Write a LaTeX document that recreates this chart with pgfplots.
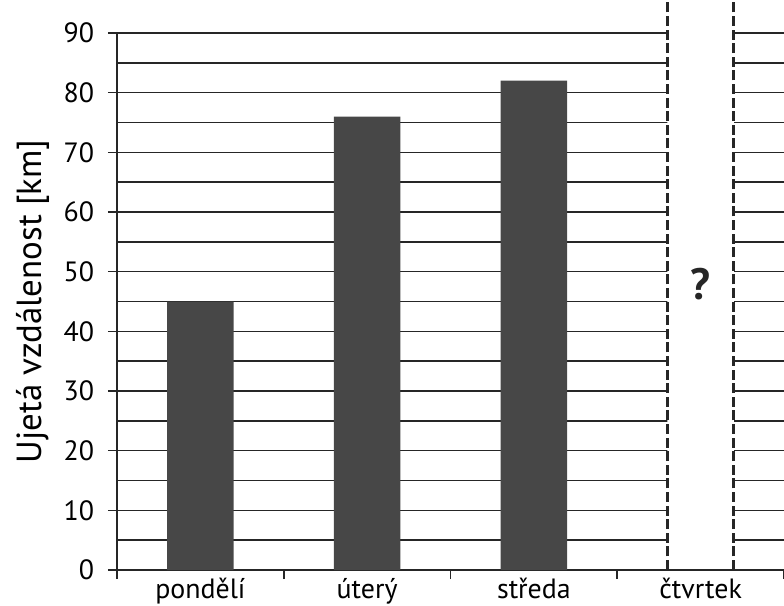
\documentclass[border=0pt]{standalone}
\usepackage{fontspec}
\setmainfont{PT Sans}
\usepackage{pgfplots}
\pgfplotsset{compat=1.18}
\begin{document}
\begin{tikzpicture}
\path[use as bounding box] (0,0) rectangle (392bp,303bp);
\begin{axis}[
  at={(58.5bp,18bp)}, anchor=south west,
  scale only axis, width=333.5bp, height=268.5bp,
  xmin=0.5, xmax=4.5, ymin=0, ymax=90,
  axis x line=bottom, axis y line=left,
  axis line style={-, line width=0.8pt, black!85},
  clip=false,
  font=\fontsize{14}{16}\selectfont,
  ytick={0,10,...,90}, minor ytick={5,15,...,85},
  ymajorgrids, yminorgrids,
  grid style={line width=0.75pt, black!85},
  minor grid style={line width=0.75pt, black!85},
  major tick length=4.5bp, minor tick length=0pt,
  tick align=outside,
  tick style={line width=0.8pt, black!85},
  xtick={0.5,1.5,...,4.5}, xticklabels={},
  extra x ticks={1,2,3,4},
  extra x tick labels={pondělí, úterý, středa, čtvrtek},
  extra x tick style={major tick length=0pt, xticklabel style={yshift=-0.5bp}},
  yticklabel style={xshift=-3.5bp},
  /pgf/number format/assume math mode=true,
  ylabel={Ujetá vzdálenost [km]},
  ylabel style={at={(axis description cs:-0.126,0.5)}, anchor=center, font=\fontsize{17.5}{20}\selectfont},
]
\addplot[ybar, bar width=0.4, bar shift=0, fill=black!72, draw=none] coordinates {(1,45) (2,76) (3,82)};
\addplot[fill=white, draw=none] coordinates {(3.8,0.4) (3.8,95.5) (4.2,95.5) (4.2,0.4) (3.8,0.4)};
\addplot[black!85, line width=1.5pt, dash pattern=on 5bp off 1.8bp] coordinates {(3.8,0) (3.8,95.5)};
\addplot[black!85, line width=1.5pt, dash pattern=on 5bp off 1.8bp] coordinates {(4.2,0) (4.2,95.5)};
\node[font=\bfseries\fontsize{22}{22}\selectfont, black!85] at (axis cs:4,48) {?};
\end{axis}
\end{tikzpicture}
\end{document}
